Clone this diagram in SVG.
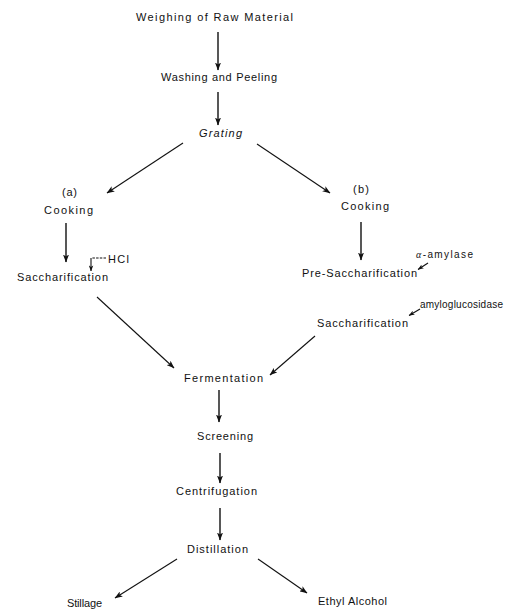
<svg xmlns="http://www.w3.org/2000/svg" width="521" height="614" viewBox="0 0 521 614">
<style>
text{font-family:"Liberation Sans",Arial,sans-serif;font-size:11px;fill:#111}
.sm{font-size:10px}
.it{font-style:italic}
.c line,.c path{stroke:#111;stroke-width:1.1;fill:none}
.c .v{stroke-width:1.4}
</style>
<defs>
<marker id="ah" viewBox="0 0 8 6" refX="7.5" refY="3" markerWidth="8" markerHeight="6" markerUnits="userSpaceOnUse" orient="auto">
<path d="M0,0 L8,3 L0,6 L2,3 Z" fill="#111"/>
</marker>
<marker id="as" viewBox="0 0 8 6" refX="7.5" refY="3" markerWidth="6" markerHeight="5" markerUnits="userSpaceOnUse" orient="auto">
<path d="M0,0 L8,3 L0,6 L2,3 Z" fill="#111"/>
</marker>
</defs>
<rect width="521" height="614" fill="#fff"/>
<g class="c" id="connectors">
<line class="v" x1="218" y1="32" x2="218" y2="70" marker-end="url(#ah)"/>
<line class="v" x1="218" y1="92" x2="218" y2="125" marker-end="url(#ah)"/>
<line x1="183" y1="143" x2="107" y2="193" marker-end="url(#ah)"/>
<line x1="257" y1="144" x2="330" y2="193" marker-end="url(#ah)"/>
<line class="v" x1="66" y1="223" x2="66" y2="262" marker-end="url(#ah)"/>
<path d="M106,258 H92" stroke-dasharray="2.5,1.2"/>
<path d="M91,258 V271" marker-end="url(#as)"/>
<line class="v" x1="361" y1="222" x2="361" y2="260" marker-end="url(#ah)"/>
<line x1="428" y1="263" x2="418" y2="269.5" marker-end="url(#as)"/>
<line x1="420" y1="309" x2="409" y2="315.5" marker-end="url(#as)"/>
<line x1="97" y1="297" x2="174" y2="368" marker-end="url(#ah)"/>
<line x1="315" y1="336" x2="270" y2="375" marker-end="url(#ah)"/>
<line class="v" x1="219" y1="390" x2="219" y2="422" marker-end="url(#ah)"/>
<line class="v" x1="220" y1="453" x2="220" y2="483" marker-end="url(#ah)"/>
<line class="v" x1="220" y1="508" x2="220" y2="540" marker-end="url(#ah)"/>
<line x1="177" y1="559" x2="115" y2="598" marker-end="url(#ah)"/>
<line x1="258" y1="559" x2="307" y2="593" marker-end="url(#ah)"/>
</g>
<g id="n-weighing"><text x="136" y="21" textLength="157" lengthAdjust="spacing">Weighing of Raw Material</text></g>
<g id="n-washing"><text x="161" y="81" textLength="116" lengthAdjust="spacing">Washing and Peeling</text></g>
<g id="n-grating"><text class="it" x="199" y="137" textLength="43" lengthAdjust="spacing">Grating</text></g>
<g id="n-cooking-a"><text x="62" y="196" textLength="15" lengthAdjust="spacing">(a)</text><text x="44" y="214" textLength="49" lengthAdjust="spacing">Cooking</text></g>
<g id="n-hcl"><text x="108" y="263" textLength="21" lengthAdjust="spacing">HCl</text></g>
<g id="n-sacch-a"><text x="17" y="281" textLength="91" lengthAdjust="spacing">Saccharification</text></g>
<g id="n-cooking-b"><text x="353" y="193" textLength="16" lengthAdjust="spacing">(b)</text><text x="341" y="210" textLength="48" lengthAdjust="spacing">Cooking</text></g>
<g id="n-amylase"><text class="sm" x="416" y="258" textLength="57" lengthAdjust="spacing"><tspan class="it" font-family="Liberation Serif, serif">α</tspan>-amylase</text></g>
<g id="n-presacch"><text x="302" y="277" textLength="115" lengthAdjust="spacing">Pre-Saccharification</text></g>
<g id="n-amylogluc"><text class="sm" x="420" y="308" textLength="83" lengthAdjust="spacing">amyloglucosidase</text></g>
<g id="n-sacch-b"><text x="317" y="327" textLength="91" lengthAdjust="spacing">Saccharification</text></g>
<g id="n-fermentation"><text x="184" y="382" textLength="79" lengthAdjust="spacing">Fermentation</text></g>
<g id="n-screening"><text x="197" y="440" textLength="56" lengthAdjust="spacing">Screening</text></g>
<g id="n-centrifugation"><text x="176" y="495" textLength="81" lengthAdjust="spacing">Centrifugation</text></g>
<g id="n-distillation"><text x="187" y="553" textLength="61" lengthAdjust="spacing">Distillation</text></g>
<g id="n-stillage"><text x="67" y="607" textLength="35" lengthAdjust="spacing">Stillage</text></g>
<g id="n-ethyl"><text x="318" y="605" textLength="69" lengthAdjust="spacing">Ethyl Alcohol</text></g>
</svg>
